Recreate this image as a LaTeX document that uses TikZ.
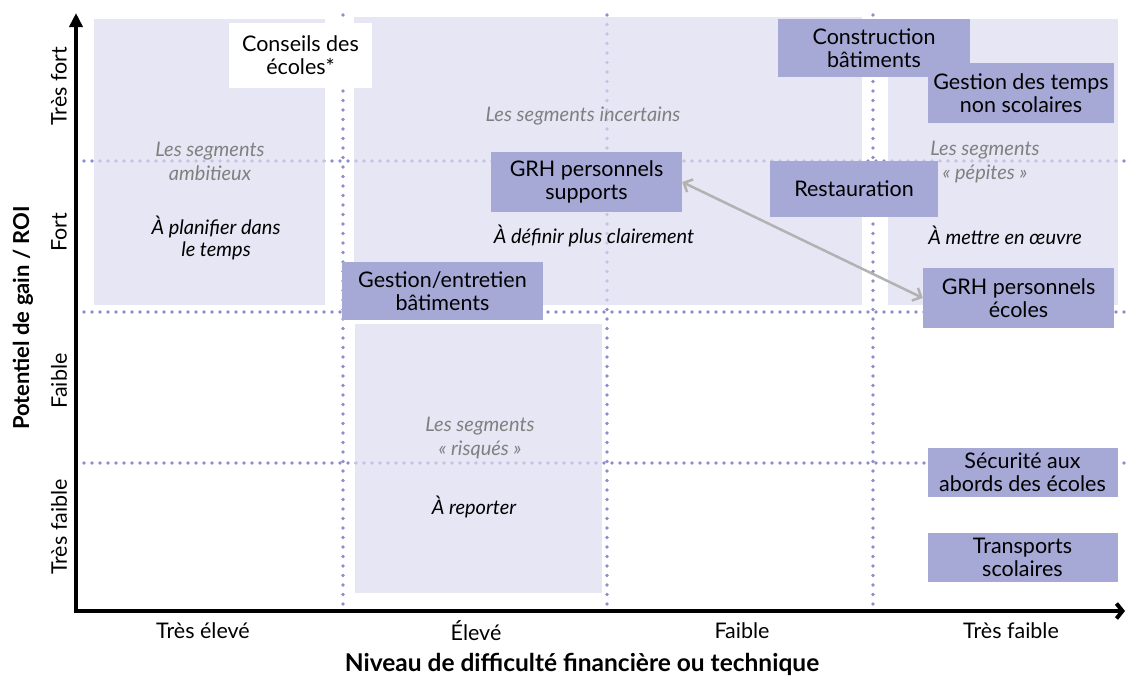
\documentclass[tikz,border=0pt]{standalone}
\usepackage{fontspec}
\setmainfont{Lato}
\usetikzlibrary{arrows.meta}
\definecolor{mauvung}{RGB}{219,219,239}
\definecolor{mauhop}{RGB}{166,168,214}
\definecolor{maucham}{RGB}{140,141,205}
\definecolor{mauxam}{RGB}{178,178,178}
\definecolor{mauchu}{RGB}{128,128,128}
\begin{document}
\begin{tikzpicture}[x=1pt,y=-1pt, line join=round,
	vung/.style={fill=mauvung, fill opacity=.7},
	luoi/.style={maucham, line width=3.6pt, line cap=round, dash pattern=on 0pt off 8pt},
	oxanh/.style={fill=mauhop, inner sep=0pt, align=center, font=\fontsize{21.5}{23}\selectfont},
	ghichu/.style={align=center, mauchu, font=\itshape\fontsize{20}{24}\selectfont},
	nhan/.style={align=center, font=\itshape\fontsize{20}{22}\selectfont},
	truc/.style={font=\fontsize{21.5}{22}\selectfont},
	tieude/.style={font=\bfseries\fontsize{22}{24}\selectfont}]
	\useasboundingbox (0,0) rectangle (1126,678);
	
	%Luoi cham
	\foreach \y in {161,312,463}
	\draw[luoi] (84,\y)--(1126,\y);
	\foreach \x in {343,607,873}
	\draw[luoi, dash pattern=on 0pt off 9.5pt] (\x,15)--(\x,613);
	
	%Cac vung
	\fill[vung] (94,19) rectangle (325,305);
	\fill[vung] (354,17) rectangle (862,305);
	\fill[vung] (888,19) rectangle (1118,305);
	\fill[vung] (355,324) rectangle (602,593);
	
	\node[ghichu] (gcamb) at (210,161) {Les segments\\ambitieux};
	\node[nhan] (lplan) at (216,238) {À planifier dans\\le temps};
	\node[ghichu] (gcinc) at (583,116) {Les segments incertains};
	\node[nhan] (ldef) at (594,236) {À définir plus clairement};
	\node[ghichu] (gcpep) at (985,162) {Les segments\\« pépites »};
	\node[nhan] (lmet) at (1005,235) {À mettre en œuvre};
	\node[ghichu] (gcris) at (480,438) {Les segments\\« risqués »};
	\node[nhan] (lrep) at (474,507) {À reporter};
	
	%Cac hop
	\node[oxanh, fill=white, minimum width=143, minimum height=65] (conseil) at (300.5,55.5) {Conseils des\\écoles*};
	\node[oxanh, minimum width=201, minimum height=58] (gestbat) at (442.5,291) {Gestion/entretien\\bâtiments};
	\node[oxanh, minimum width=191, minimum height=60] (grhsupp) at (586.5,182) {GRH personnels\\supports};
	\node[oxanh, minimum width=192, minimum height=58] (constr) at (874,48) {Construction\\bâtiments};
	\node[oxanh, minimum width=186, minimum height=60] (tempsns) at (1021,93) {Gestion des temps\\non scolaires};
	\node[oxanh, minimum width=168, minimum height=56] (resto) at (854,189) {Restauration};
	\node[oxanh, minimum width=191, minimum height=60] (grhecol) at (1018.5,298) {GRH personnels\\écoles};
	\node[oxanh, minimum width=190, minimum height=49] (secur) at (1022.5,472) {Sécurité aux\\abords des écoles};
	\node[oxanh, minimum width=190, minimum height=49] (transp) at (1022.5,557) {Transports\\scolaires};
	
	\draw[mauxam, line width=2.5pt, {Straight Barb[length=7pt,width=14pt]}-{Straight Barb[length=7pt,width=14pt]}] (grhsupp.east)--(grhecol.west);
	
	%Hai truc
	\coordinate (goc) at (76,612);
	\coordinate (ydinh) at (76,13);
	\coordinate (xcuoi) at (1125,611);
	\draw[line width=4pt, -{Triangle[length=14pt,width=13pt]}] (goc)--(ydinh);
	\draw[line width=4pt, -{Straight Barb[length=6pt,width=15pt]}] (74,611)--(xcuoi);
	
	\node[truc, rotate=90] (ytf) at (59,86) {Très fort};
	\node[truc, rotate=90] (yf) at (59,232) {Fort};
	\node[truc, rotate=90] (yfa) at (59,381) {Faible};
	\node[truc, rotate=90] (ytfa) at (59,527) {Très faible};
	\node[tieude, rotate=90] (ytitre) at (23,318) {Potentiel de gain / ROI};
	
	\node[truc] (xte) at (203,631) {Très élevé};
	\node[truc] (xe) at (476,631) {Élevé};
	\node[truc] (xfa) at (742,631) {Faible};
	\node[truc] (xtfa) at (1011,631) {Très faible};
	\node[tieude, font=\bfseries\fontsize{24.5}{26}\selectfont] (xtitre) at (582,664) {Niveau de difficulté financière ou technique};
\end{tikzpicture}
\end{document}
